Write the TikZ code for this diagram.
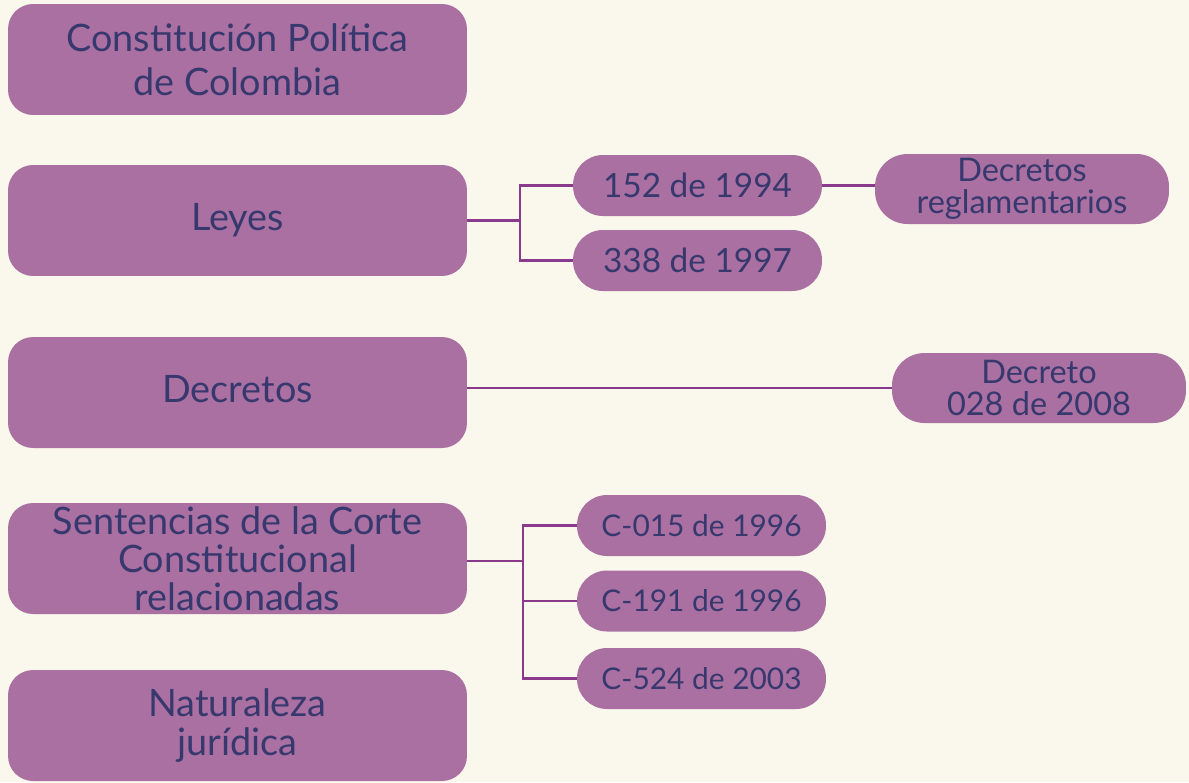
\documentclass[tikz,border=0pt]{standalone}
\usepackage{fontspec}
\setmainfont{Lato}
\usetikzlibrary{positioning}
\definecolor{bgcream}{HTML}{FAF7EC}
\definecolor{boxpurple}{HTML}{A970A1}
\definecolor{textblue}{HTML}{37386E}
\definecolor{linepurple}{HTML}{8A3A8B}
\tikzset{
	tema/.style={fill=boxpurple,text=textblue,rounded corners=0.5cm,minimum width=9.18cm,minimum height=2.22cm,align=center,inner sep=0pt,font=\fontsize{21.5}{25}\selectfont},
	hoja/.style={fill=boxpurple,text=textblue,rounded corners=0.6cm,minimum width=4.98cm,minimum height=1.22cm,align=center,inner sep=0pt,font=\fontsize{19}{22}\selectfont},
	nota/.style={fill=boxpurple,text=textblue,rounded corners=0.65cm,minimum width=5.88cm,minimum height=1.4cm,align=center,inner sep=0pt,font=\fontsize{18.5}{18.5}\selectfont},
	conector/.style={draw=linepurple,line width=1.6pt}
}

\begin{document}
\begin{tikzpicture}[x=0.02cm,y=-0.02cm]
	\fill[bgcream] (0,0) rectangle (1189,782);
	\useasboundingbox (0,0) rectangle (1189,782);
	\node[tema] (constitucion) at (237.5,59.5) {Constitución Política\\de Colombia};
	\node[tema] (leyes) at (237.5,220.5) {\raisebox{2pt}{Leyes}};
	\node[tema] (decretos) at (237.5,392.5) {\raisebox{4pt}{Decretos}};
	\node[tema,font=\fontsize{21.5}{21.5}\selectfont] (sentencias) at (237.5,558.5) {Sentencias de la Corte\\Constitucional\\relacionadas};
	\node[tema,font=\fontsize{21.5}{22}\selectfont] (naturaleza) at (237.5,725.5) {Naturaleza\\jurídica};

	\node[hoja] (ley152) at (697.5,185.5) {152 de 1994};
	\node[hoja] (ley338) at (697.5,260.5) {338 de 1997};
	\node[nota] (reglamentarios) at (1022,189) {Decretos\\reglamentarios};
	\node[nota] (decreto028) at (1039,388) {Decreto\\028 de 2008};

	\node[hoja,font=\fontsize{17}{16}\selectfont] (c015) at (701.5,525.5) {C-015 de 1996};
	\node[hoja,font=\fontsize{17}{16}\selectfont] (c191) at (701.5,601) {C-191 de 1996};
	\node[hoja,font=\fontsize{17}{16}\selectfont] (c524) at (701.5,678.5) {C-524 de 2003};

	\coordinate (leyesrama) at (520,220.5);
	\coordinate (sentenciasrama) at (523,561);
	\draw[conector] (leyes.east |- leyesrama) -- (leyesrama);
	\draw[conector] (ley152.west) -| (leyesrama) |- (ley338.west);
	\draw[conector] (ley152.east) -- (ley152.east -| reglamentarios.west);
	\draw[conector] (decreto028.west -| decretos.east) -- (decreto028.west);
	\draw[conector] (sentencias.east |- sentenciasrama) -- (sentenciasrama);
	\draw[conector] (c015.west) -| (sentenciasrama) |- (c524.west);
	\draw[conector] (sentenciasrama |- c191.west) -- (c191.west);
\end{tikzpicture}
\end{document}
